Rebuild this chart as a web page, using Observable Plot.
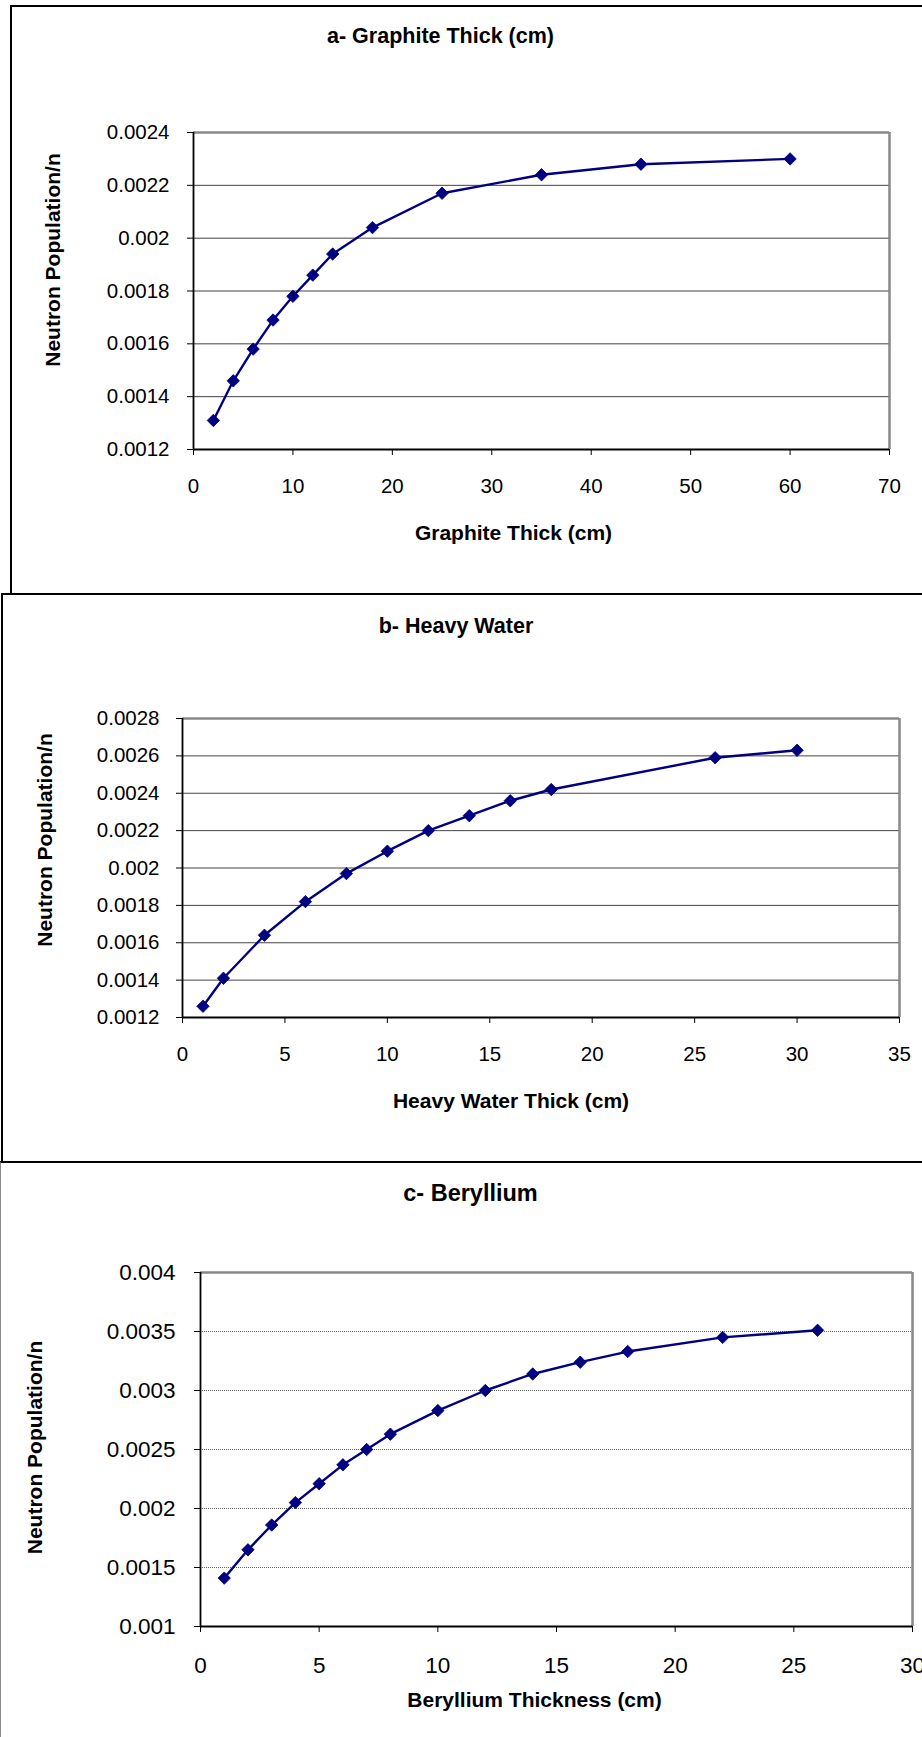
<!DOCTYPE html>
<html>
<head>
<meta charset="utf-8">
<script src="https://cdn.jsdelivr.net/npm/d3@7"></script>
<script src="https://cdn.jsdelivr.net/npm/@observablehq/plot@0.6"></script>
<style>
  html, body { margin: 0; padding: 0; background: #fff; }
  #wrap { position: relative; width: 922px; height: 1737px; overflow: hidden; background: #fff; }
  .panel { position: absolute; left: 0; width: 922px; }
  .panel svg { background: transparent !important; }
  .box { position: absolute; pointer-events: none; box-sizing: border-box; z-index: 5; }
</style>
</head>
<body>
<div id="wrap">
  <div class="panel" id="pa" style="top:0px;"></div>
  <div class="panel" id="pb" style="top:595px;"></div>
  <div class="panel" id="pc" style="top:1162px;"></div>
  <div class="box" style="left:10px; top:5px; width:1000px; height:590px; border:2.5px solid #000;"></div>
  <div class="box" style="left:1px; top:593px; width:1000px; height:570px; border:2.5px solid #000;"></div>
  <div class="box" style="left:0px; top:1161px; width:1000px; height:700px; border-top:2.5px solid #000; border-left:1.5px solid #888;"></div>
</div>
<script>
// ---- data ----
const graphiteX = [2, 4, 6, 8, 10, 12, 14, 18, 25, 35, 45, 60];
const graphiteY = [0.00131, 0.00146, 0.00158, 0.00169, 0.00178, 0.00186, 0.00194, 0.00204, 0.00217, 0.00224, 0.00228, 0.00230];
const graphiteXTicks = [0, 10, 20, 30, 40, 50, 60, 70];
const graphiteYTicks = [0.0012, 0.0014, 0.0016, 0.0018, 0.002, 0.0022, 0.0024];

const heavyX = [1, 2, 4, 6, 8, 10, 12, 14, 16, 18, 26, 30];
const heavyY = [0.00126, 0.00141, 0.00164, 0.00182, 0.00197, 0.00209, 0.00220, 0.00228, 0.00236, 0.00242, 0.00259, 0.00263];
const heavyXTicks = [0, 5, 10, 15, 20, 25, 30, 35];
const heavyYTicks = [0.0012, 0.0014, 0.0016, 0.0018, 0.002, 0.0022, 0.0024, 0.0026, 0.0028];

const berylX = [1, 2, 3, 4, 5, 6, 7, 8, 10, 12, 14, 16, 18, 22, 26];
const berylY = [0.00141, 0.00165, 0.00186, 0.00205, 0.00221, 0.00237, 0.00250, 0.00263, 0.00283, 0.00300, 0.00314, 0.00324, 0.00333, 0.00345, 0.00351];
const berylXTicks = [0, 5, 10, 15, 20, 25, 30];
const berylYTicks = [0.001, 0.0015, 0.002, 0.0025, 0.003, 0.0035, 0.004];

const titles = ["a- Graphite Thick (cm)", "b- Heavy Water", "c- Beryllium"];
const xTitles = ["Graphite Thick (cm)", "Heavy Water Thick (cm)", "Beryllium Thickness (cm)"];
const yTitle = "Neutron Population/n";

const NAVY = "#000080";
const FONT = "'Liberation Sans', Arial, Helvetica, sans-serif";
const fmt = d => String(+d.toFixed(6));

function panel(cfg) {
  const data = cfg.xs.map((x, i) => ({x, y: cfg.ys[i]}));
  const x0 = cfg.xTicks[0], x1 = cfg.xTicks[cfg.xTicks.length - 1];
  const y0 = cfg.yTicks[0], y1 = cfg.yTicks[cfg.yTicks.length - 1];
  return Plot.plot({
    width: 922,
    height: cfg.height,
    marginTop: cfg.mt, marginBottom: cfg.mb, marginLeft: cfg.ml, marginRight: cfg.mr,
    style: {fontFamily: FONT, fontSize: cfg.tickFont + "px", color: "#000", background: "transparent"},
    x: {domain: [x0, x1]},
    y: {domain: [y0, y1]},
    marks: [
      Plot.ruleY(cfg.yTicks.slice(1, -1), {stroke: cfg.gridColor, strokeWidth: 1, strokeDasharray: cfg.gridDash}),
      Plot.ruleY([y1], {stroke: "#888", strokeWidth: 2.5}),
      Plot.ruleX([x1], {stroke: "#888", strokeWidth: 2.5}),
      Plot.ruleY([y0], {stroke: "#000", strokeWidth: 1.8}),
      Plot.ruleX([x0], {stroke: "#000", strokeWidth: 1.8}),
      Plot.axisX(cfg.xTicks, {tickSize: 6, tickPadding: cfg.xPad, tickFormat: fmt, label: null, stroke: "#000", fill: "#000", fontSize: cfg.tickFont}),
      Plot.axisY(cfg.yTicks, {tickSize: 6, tickPadding: cfg.yPad, tickFormat: fmt, label: null, stroke: "#000", fill: "#000", fontSize: cfg.tickFont}),
      Plot.line(data, {x: "x", y: "y", stroke: NAVY, strokeWidth: 2.4}),
      Plot.dot(data, {x: "x", y: "y", symbol: "diamond2", r: 5.6, fill: NAVY, stroke: NAVY, strokeWidth: 0.8}),
      Plot.text([cfg.title], {text: d => d, frameAnchor: "top", lineAnchor: "middle", dx: cfg.tdx, dy: cfg.tdy, fontWeight: "bold", fontSize: cfg.titleFont, fill: "#000"}),
      Plot.text([cfg.xTitle], {text: d => d, frameAnchor: "bottom", lineAnchor: "middle", dx: cfg.xdx, dy: cfg.xdy, fontWeight: "bold", fontSize: cfg.axisFont, fill: "#000"}),
      Plot.text([yTitle], {text: d => d, frameAnchor: "left", lineAnchor: "middle", textAnchor: "middle", rotate: -90, dx: cfg.ydx, dy: cfg.ydy, fontWeight: "bold", fontSize: cfg.axisFont, fill: "#000"})
    ]
  });
}

document.getElementById("pa").appendChild(panel({
  xs: graphiteX, ys: graphiteY, xTicks: graphiteXTicks, yTicks: graphiteYTicks,
  height: 595, mt: 132, mb: 146, ml: 193, mr: 33,
  tickFont: 20.5, titleFont: 21.5, axisFont: 21, xPad: 23, yPad: 18,
  gridColor: "#444", gridDash: null,
  title: titles[0], tdx: -101, tdy: -96,
  xTitle: xTitles[0], xdx: -28, xdy: 84,
  ydx: -140, ydy: -31
}));

document.getElementById("pb").appendChild(panel({
  xs: heavyX, ys: heavyY, xTicks: heavyXTicks, yTicks: heavyYTicks,
  height: 567, mt: 123, mb: 145, ml: 182, mr: 23,
  tickFont: 20.5, titleFont: 21.5, axisFont: 21, xPad: 23, yPad: 17,
  gridColor: "#444", gridDash: null,
  title: titles[1], tdx: -85, tdy: -92,
  xTitle: xTitles[1], xdx: -30, xdy: 84,
  ydx: -137, ydy: -28
}));

document.getElementById("pc").appendChild(panel({
  xs: berylX, ys: berylY, xTicks: berylXTicks, yTicks: berylYTicks,
  height: 575, mt: 110, mb: 111, ml: 200, mr: 10,
  tickFont: 22.5, titleFont: 23.5, axisFont: 21, xPad: 25, yPad: 19,
  gridColor: "#666", gridDash: "1,1",
  title: titles[2], tdx: -86, tdy: -79,
  xTitle: xTitles[2], xdx: -22, xdy: 74,
  ydx: -165, ydy: -2
}));
</script>
</body>
</html>
